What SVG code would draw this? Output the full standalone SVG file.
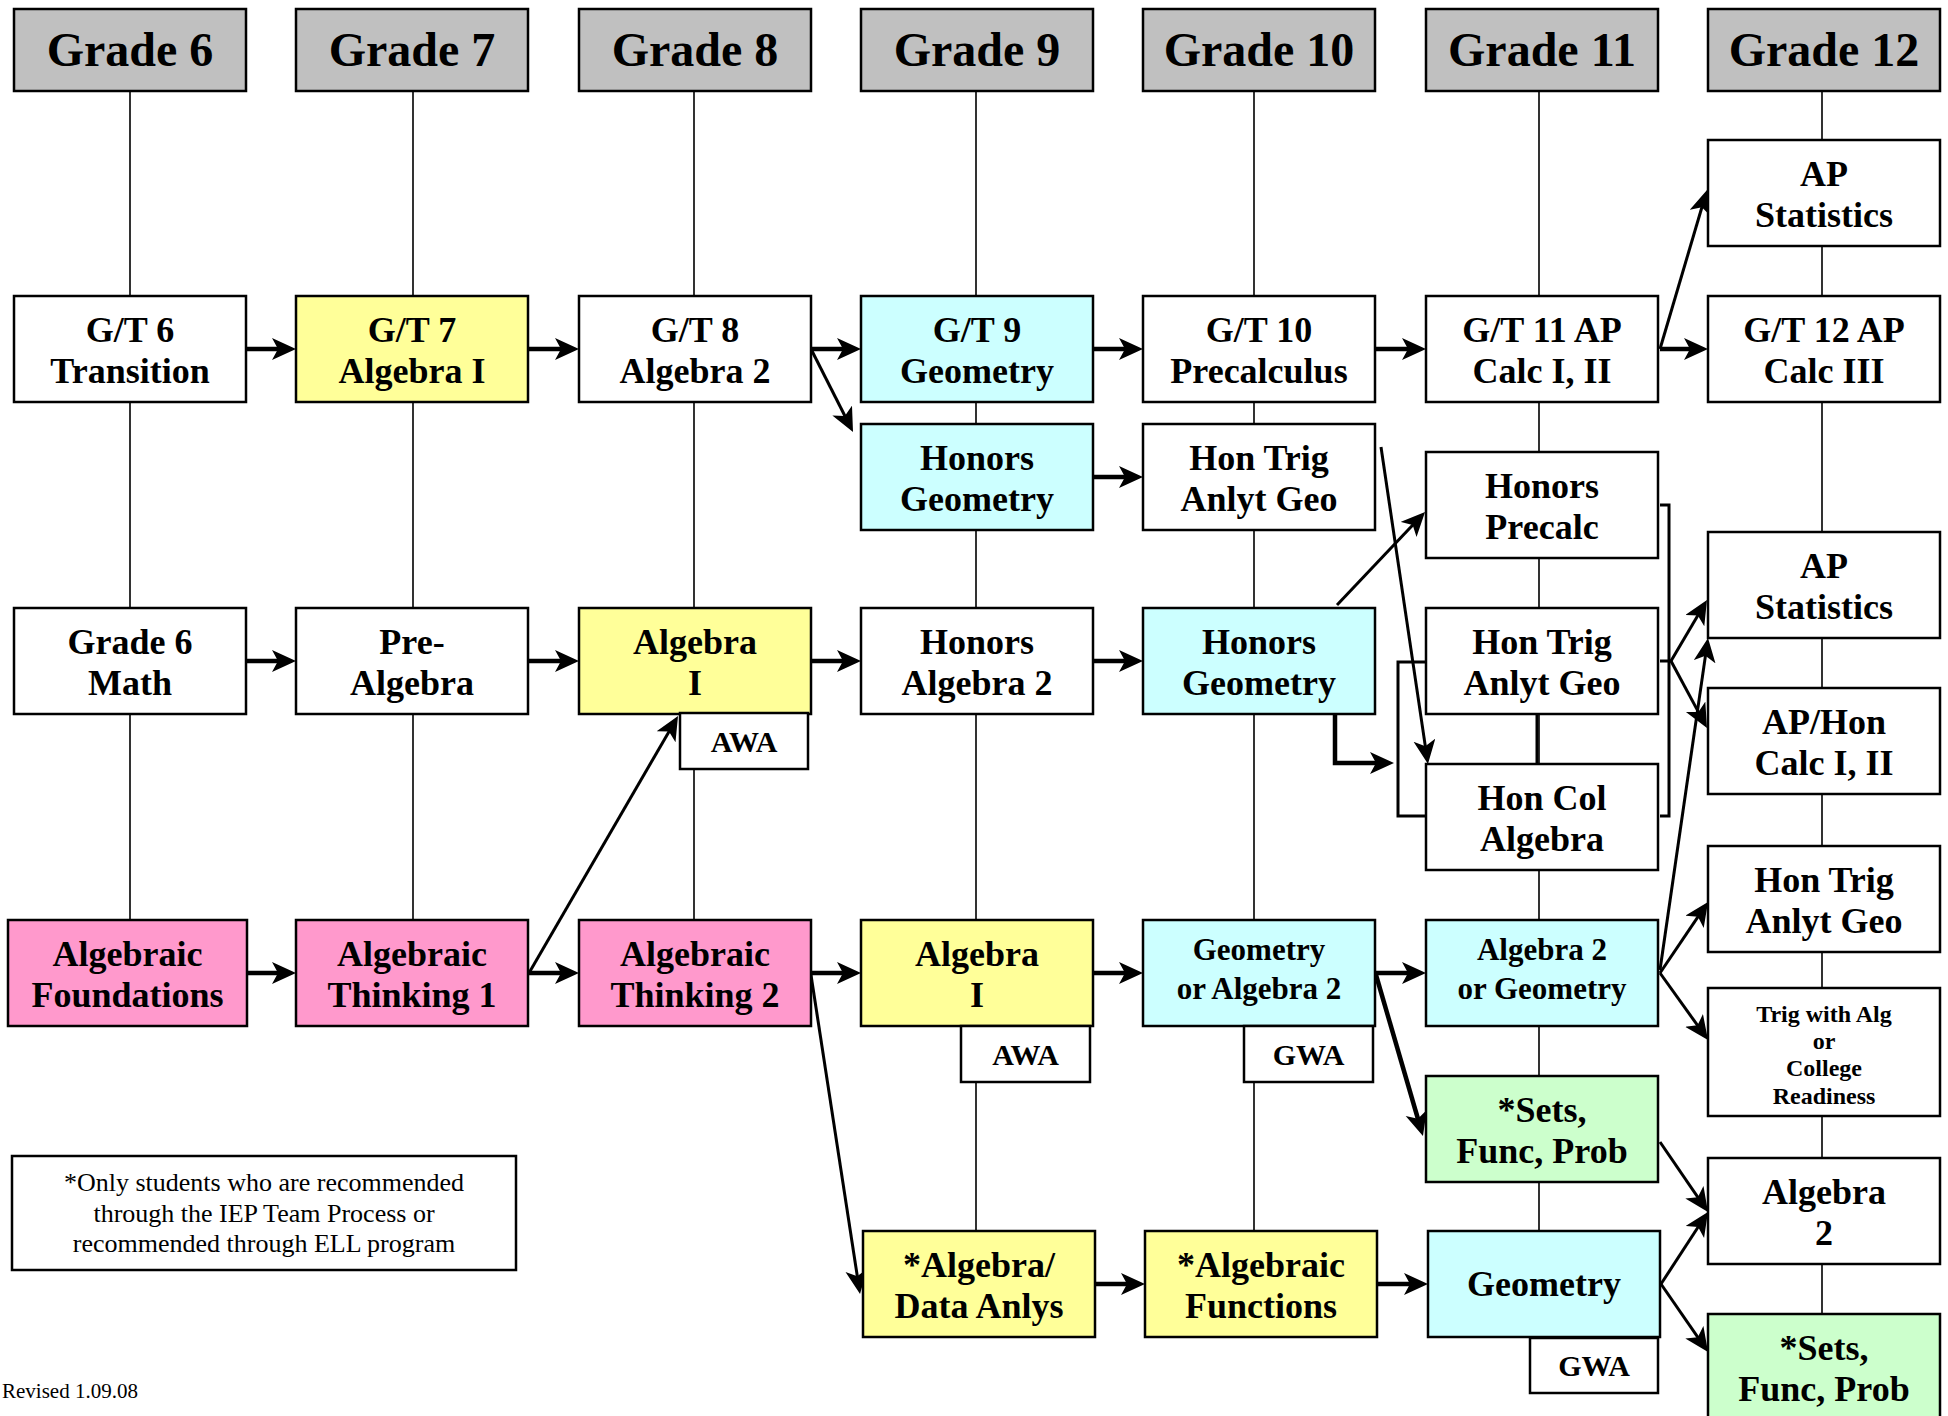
<svg xmlns="http://www.w3.org/2000/svg" width="1948" height="1416" viewBox="0 0 1948 1416">
<style>
.bx{stroke:#000;stroke-width:2.5}
.hd{fill:#c0c0c0}
.w{fill:#fff}
.y{fill:#ffff99}
.c{fill:#ccffff}
.p{fill:#ff99cc}
.g{fill:#ccffcc}
text{font-family:"Liberation Serif","Times New Roman",serif;font-weight:bold;fill:#000;text-anchor:middle}
.h{font-size:48px}
.t{font-size:36px}
.m{font-size:31px}
.s{font-size:24px}
.a{font-size:30px}
.n{font-weight:normal;font-size:26px}
.col{stroke:#000;stroke-width:1.6;fill:none}
.th{stroke:#000;stroke-width:4.5;fill:none}
.tn{stroke:#000;stroke-width:3;fill:none}
</style>
<defs>
<marker id="ah" markerUnits="userSpaceOnUse" markerWidth="26" markerHeight="24" refX="12" refY="11" orient="auto">
<path d="M0,0 L24,11 L0,22 L6,11 z" fill="#000"/>
</marker>
</defs>
<rect width="1948" height="1416" fill="#fff"/>
<g id="connectors">
<path class="col" d="M130,91V920 M413,91V920 M694,91V920 M976,91V1231 M1254,91V1231 M1539,91V1231 M1822,91V1314"/>
<path class="tn" d="M1537,714V764"/>
<path class="th" marker-end="url(#ah)" d="M247,349H284"/>
<path class="th" marker-end="url(#ah)" d="M529,349H567"/>
<path class="th" marker-end="url(#ah)" d="M811,349H849"/>
<path class="th" marker-end="url(#ah)" d="M1093,349H1131"/>
<path class="th" marker-end="url(#ah)" d="M1376,349H1414"/>
<path class="th" marker-end="url(#ah)" d="M1660,349H1696"/>
<path class="th" marker-end="url(#ah)" d="M1093,477H1131"/>
<path class="th" marker-end="url(#ah)" d="M247,661H284"/>
<path class="th" marker-end="url(#ah)" d="M529,661H567"/>
<path class="th" marker-end="url(#ah)" d="M811,661H849"/>
<path class="th" marker-end="url(#ah)" d="M1093,661H1131"/>
<path class="th" marker-end="url(#ah)" d="M247,973H284"/>
<path class="th" marker-end="url(#ah)" d="M529,973H567"/>
<path class="th" marker-end="url(#ah)" d="M811,973H849"/>
<path class="th" marker-end="url(#ah)" d="M1093,973H1131"/>
<path class="th" marker-end="url(#ah)" d="M1376,973H1414"/>
<path class="th" marker-end="url(#ah)" d="M1095,1284H1133"/>
<path class="th" marker-end="url(#ah)" d="M1377,1284H1416"/>
<path class="tn" marker-end="url(#ah)" d="M811,349L847.6,421.3"/>
<path class="tn" marker-end="url(#ah)" d="M1660,349L1703.6,201.5"/>
<path class="tn" marker-end="url(#ah)" d="M1337,605L1416.8,520.7"/>
<path class="tn" marker-end="url(#ah)" d="M1381,447L1426.2,752.1"/>
<path class="th" marker-end="url(#ah)" d="M1335,714V763H1382"/>
<path class="tn" d="M1426,662H1398V816H1426"/>
<path class="tn" d="M1660,505H1669V816H1660 M1660,661H1671"/>
<path class="tn" marker-end="url(#ah)" d="M1671,661L1700.9,610.3"/>
<path class="tn" marker-end="url(#ah)" d="M1671,661L1701.3,717.4"/>
<path class="tn" marker-end="url(#ah)" d="M1660,970L1706.3,649.9"/>
<path class="tn" marker-end="url(#ah)" d="M1660,973L1701.3,911.9"/>
<path class="tn" marker-end="url(#ah)" d="M1660,973L1701,1030.2"/>
<path class="tn" marker-end="url(#ah)" d="M529,973L672,726.4"/>
<path class="tn" marker-end="url(#ah)" d="M811,975L858.2,1282.1"/>
<path class="th" marker-end="url(#ah)" d="M1376,975L1419.6,1124.5"/>
<path class="tn" marker-end="url(#ah)" d="M1660,1142L1701.2,1202.1"/>
<path class="tn" marker-end="url(#ah)" d="M1661,1284L1701.4,1222"/>
<path class="tn" marker-end="url(#ah)" d="M1661,1284L1701.2,1342.1"/>
</g>
<g id="h6"><rect class="bx hd" x="14" y="9" width="232" height="82"/><text class="h" x="130" y="66">Grade 6</text></g>
<g id="h7"><rect class="bx hd" x="296" y="9" width="232" height="82"/><text class="h" x="412" y="66">Grade 7</text></g>
<g id="h8"><rect class="bx hd" x="579" y="9" width="232" height="82"/><text class="h" x="695" y="66">Grade 8</text></g>
<g id="h9"><rect class="bx hd" x="861" y="9" width="232" height="82"/><text class="h" x="977" y="66">Grade 9</text></g>
<g id="h10"><rect class="bx hd" x="1143" y="9" width="232" height="82"/><text class="h" x="1259" y="66">Grade 10</text></g>
<g id="h11"><rect class="bx hd" x="1426" y="9" width="232" height="82"/><text class="h" x="1542" y="66">Grade 11</text></g>
<g id="h12"><rect class="bx hd" x="1708" y="9" width="232" height="82"/><text class="h" x="1824" y="66">Grade 12</text></g>
<g id="gt6"><rect class="bx w" x="14" y="296" width="232" height="106"/><text class="t" x="130" y="342">G/T 6</text><text class="t" x="130" y="383">Transition</text></g>
<g id="gt7"><rect class="bx y" x="296" y="296" width="232" height="106"/><text class="t" x="412" y="342">G/T 7</text><text class="t" x="412" y="383">Algebra I</text></g>
<g id="gt8"><rect class="bx w" x="579" y="296" width="232" height="106"/><text class="t" x="695" y="342">G/T 8</text><text class="t" x="695" y="383">Algebra 2</text></g>
<g id="gt9"><rect class="bx c" x="861" y="296" width="232" height="106"/><text class="t" x="977" y="342">G/T 9</text><text class="t" x="977" y="383">Geometry</text></g>
<g id="gt10"><rect class="bx w" x="1143" y="296" width="232" height="106"/><text class="t" x="1259" y="342">G/T 10</text><text class="t" x="1259" y="383">Precalculus</text></g>
<g id="gt11"><rect class="bx w" x="1426" y="296" width="232" height="106"/><text class="t" x="1542" y="342">G/T 11 AP</text><text class="t" x="1542" y="383">Calc I, II</text></g>
<g id="gt12"><rect class="bx w" x="1708" y="296" width="232" height="106"/><text class="t" x="1824" y="342">G/T 12 AP</text><text class="t" x="1824" y="383">Calc III</text></g>
<g id="apstat1"><rect class="bx w" x="1708" y="140" width="232" height="106"/><text class="t" x="1824" y="186">AP</text><text class="t" x="1824" y="227">Statistics</text></g>
<g id="hongeo9"><rect class="bx c" x="861" y="424" width="232" height="106"/><text class="t" x="977" y="470">Honors</text><text class="t" x="977" y="511">Geometry</text></g>
<g id="hontrig10"><rect class="bx w" x="1143" y="424" width="232" height="106"/><text class="t" x="1259" y="470">Hon Trig</text><text class="t" x="1259" y="511">Anlyt Geo</text></g>
<g id="honprecalc11"><rect class="bx w" x="1426" y="452" width="232" height="106"/><text class="t" x="1542" y="498">Honors</text><text class="t" x="1542" y="539">Precalc</text></g>
<g id="g6math"><rect class="bx w" x="14" y="608" width="232" height="106"/><text class="t" x="130" y="654">Grade 6</text><text class="t" x="130" y="695">Math</text></g>
<g id="prealg7"><rect class="bx w" x="296" y="608" width="232" height="106"/><text class="t" x="412" y="654">Pre-</text><text class="t" x="412" y="695">Algebra</text></g>
<g id="alg1g8"><rect class="bx y" x="579" y="608" width="232" height="106"/><text class="t" x="695" y="654">Algebra</text><text class="t" x="695" y="695">I</text></g>
<g id="awa8"><rect class="bx w" x="680" y="713" width="128" height="56"/><text class="a" x="744" y="752">AWA</text></g>
<g id="honalg2g9"><rect class="bx w" x="861" y="608" width="232" height="106"/><text class="t" x="977" y="654">Honors</text><text class="t" x="977" y="695">Algebra 2</text></g>
<g id="hongeo10"><rect class="bx c" x="1143" y="608" width="232" height="106"/><text class="t" x="1259" y="654">Honors</text><text class="t" x="1259" y="695">Geometry</text></g>
<g id="hontrig11"><rect class="bx w" x="1426" y="608" width="232" height="106"/><text class="t" x="1542" y="654">Hon Trig</text><text class="t" x="1542" y="695">Anlyt Geo</text></g>
<g id="apstat2"><rect class="bx w" x="1708" y="532" width="232" height="106"/><text class="t" x="1824" y="578">AP</text><text class="t" x="1824" y="619">Statistics</text></g>
<g id="apcalc12"><rect class="bx w" x="1708" y="688" width="232" height="106"/><text class="t" x="1824" y="734">AP/Hon</text><text class="t" x="1824" y="775">Calc I, II</text></g>
<g id="honcol11"><rect class="bx w" x="1426" y="764" width="232" height="106"/><text class="t" x="1542" y="810">Hon Col</text><text class="t" x="1542" y="851">Algebra</text></g>
<g id="hontrig12"><rect class="bx w" x="1708" y="846" width="232" height="106"/><text class="t" x="1824" y="892">Hon Trig</text><text class="t" x="1824" y="933">Anlyt Geo</text></g>
<g id="algfound6"><rect class="bx p" x="8" y="920" width="239" height="106"/><text class="t" x="127.5" y="966">Algebraic</text><text class="t" x="127.5" y="1007">Foundations</text></g>
<g id="algthink1"><rect class="bx p" x="296" y="920" width="232" height="106"/><text class="t" x="412" y="966">Algebraic</text><text class="t" x="412" y="1007">Thinking 1</text></g>
<g id="algthink2"><rect class="bx p" x="579" y="920" width="232" height="106"/><text class="t" x="695" y="966">Algebraic</text><text class="t" x="695" y="1007">Thinking 2</text></g>
<g id="alg1g9"><rect class="bx y" x="861" y="920" width="232" height="106"/><text class="t" x="977" y="966">Algebra</text><text class="t" x="977" y="1007">I</text></g>
<g id="awa9"><rect class="bx w" x="961" y="1026" width="129" height="56"/><text class="a" x="1025.5" y="1065">AWA</text></g>
<g id="geoalg10"><rect class="bx c" x="1143" y="920" width="232" height="106"/><text class="m" x="1259" y="960">Geometry</text><text class="m" x="1259" y="999">or Algebra 2</text></g>
<g id="gwa10"><rect class="bx w" x="1244" y="1026" width="129" height="56"/><text class="a" x="1308.5" y="1065">GWA</text></g>
<g id="alggeo11"><rect class="bx c" x="1426" y="920" width="232" height="106"/><text class="m" x="1542" y="960">Algebra 2</text><text class="m" x="1542" y="999">or Geometry</text></g>
<g id="trigalg12"><rect class="bx w" x="1708" y="988" width="232" height="128"/><text class="s" x="1824" y="1022">Trig with Alg</text><text class="s" x="1824" y="1049">or</text><text class="s" x="1824" y="1076">College</text><text class="s" x="1824" y="1104">Readiness</text></g>
<g id="sets11"><rect class="bx g" x="1426" y="1076" width="232" height="106"/><text class="t" x="1542" y="1122">*Sets,</text><text class="t" x="1542" y="1163">Func, Prob</text></g>
<g id="alg2g12"><rect class="bx w" x="1708" y="1158" width="232" height="106"/><text class="t" x="1824" y="1204">Algebra</text><text class="t" x="1824" y="1245">2</text></g>
<g id="algdata9"><rect class="bx y" x="863" y="1231" width="232" height="106"/><text class="t" x="979" y="1277">*Algebra/</text><text class="t" x="979" y="1318">Data Anlys</text></g>
<g id="algfunc10"><rect class="bx y" x="1145" y="1231" width="232" height="106"/><text class="t" x="1261" y="1277">*Algebraic</text><text class="t" x="1261" y="1318">Functions</text></g>
<g id="geo11"><rect class="bx c" x="1428" y="1231" width="232" height="106"/><text class="t" x="1544" y="1296">Geometry</text></g>
<g id="gwa11"><rect class="bx w" x="1530" y="1338" width="128" height="55"/><text class="a" x="1594" y="1376">GWA</text></g>
<g id="sets12"><rect class="bx g" x="1708" y="1314" width="232" height="112"/><text class="t" x="1824" y="1360">*Sets,</text><text class="t" x="1824" y="1401">Func, Prob</text></g>
<g id="footnote"><rect class="bx w" x="12" y="1156" width="504" height="114"/><text class="n" x="264" y="1191">*Only students who are recommended</text><text class="n" x="264" y="1222">through the IEP Team Process or</text><text class="n" x="264" y="1252">recommended through ELL program</text></g>
<text x="2" y="1398" style="font-weight:normal;font-size:21px;text-anchor:start">Revised 1.09.08</text>
</svg>
